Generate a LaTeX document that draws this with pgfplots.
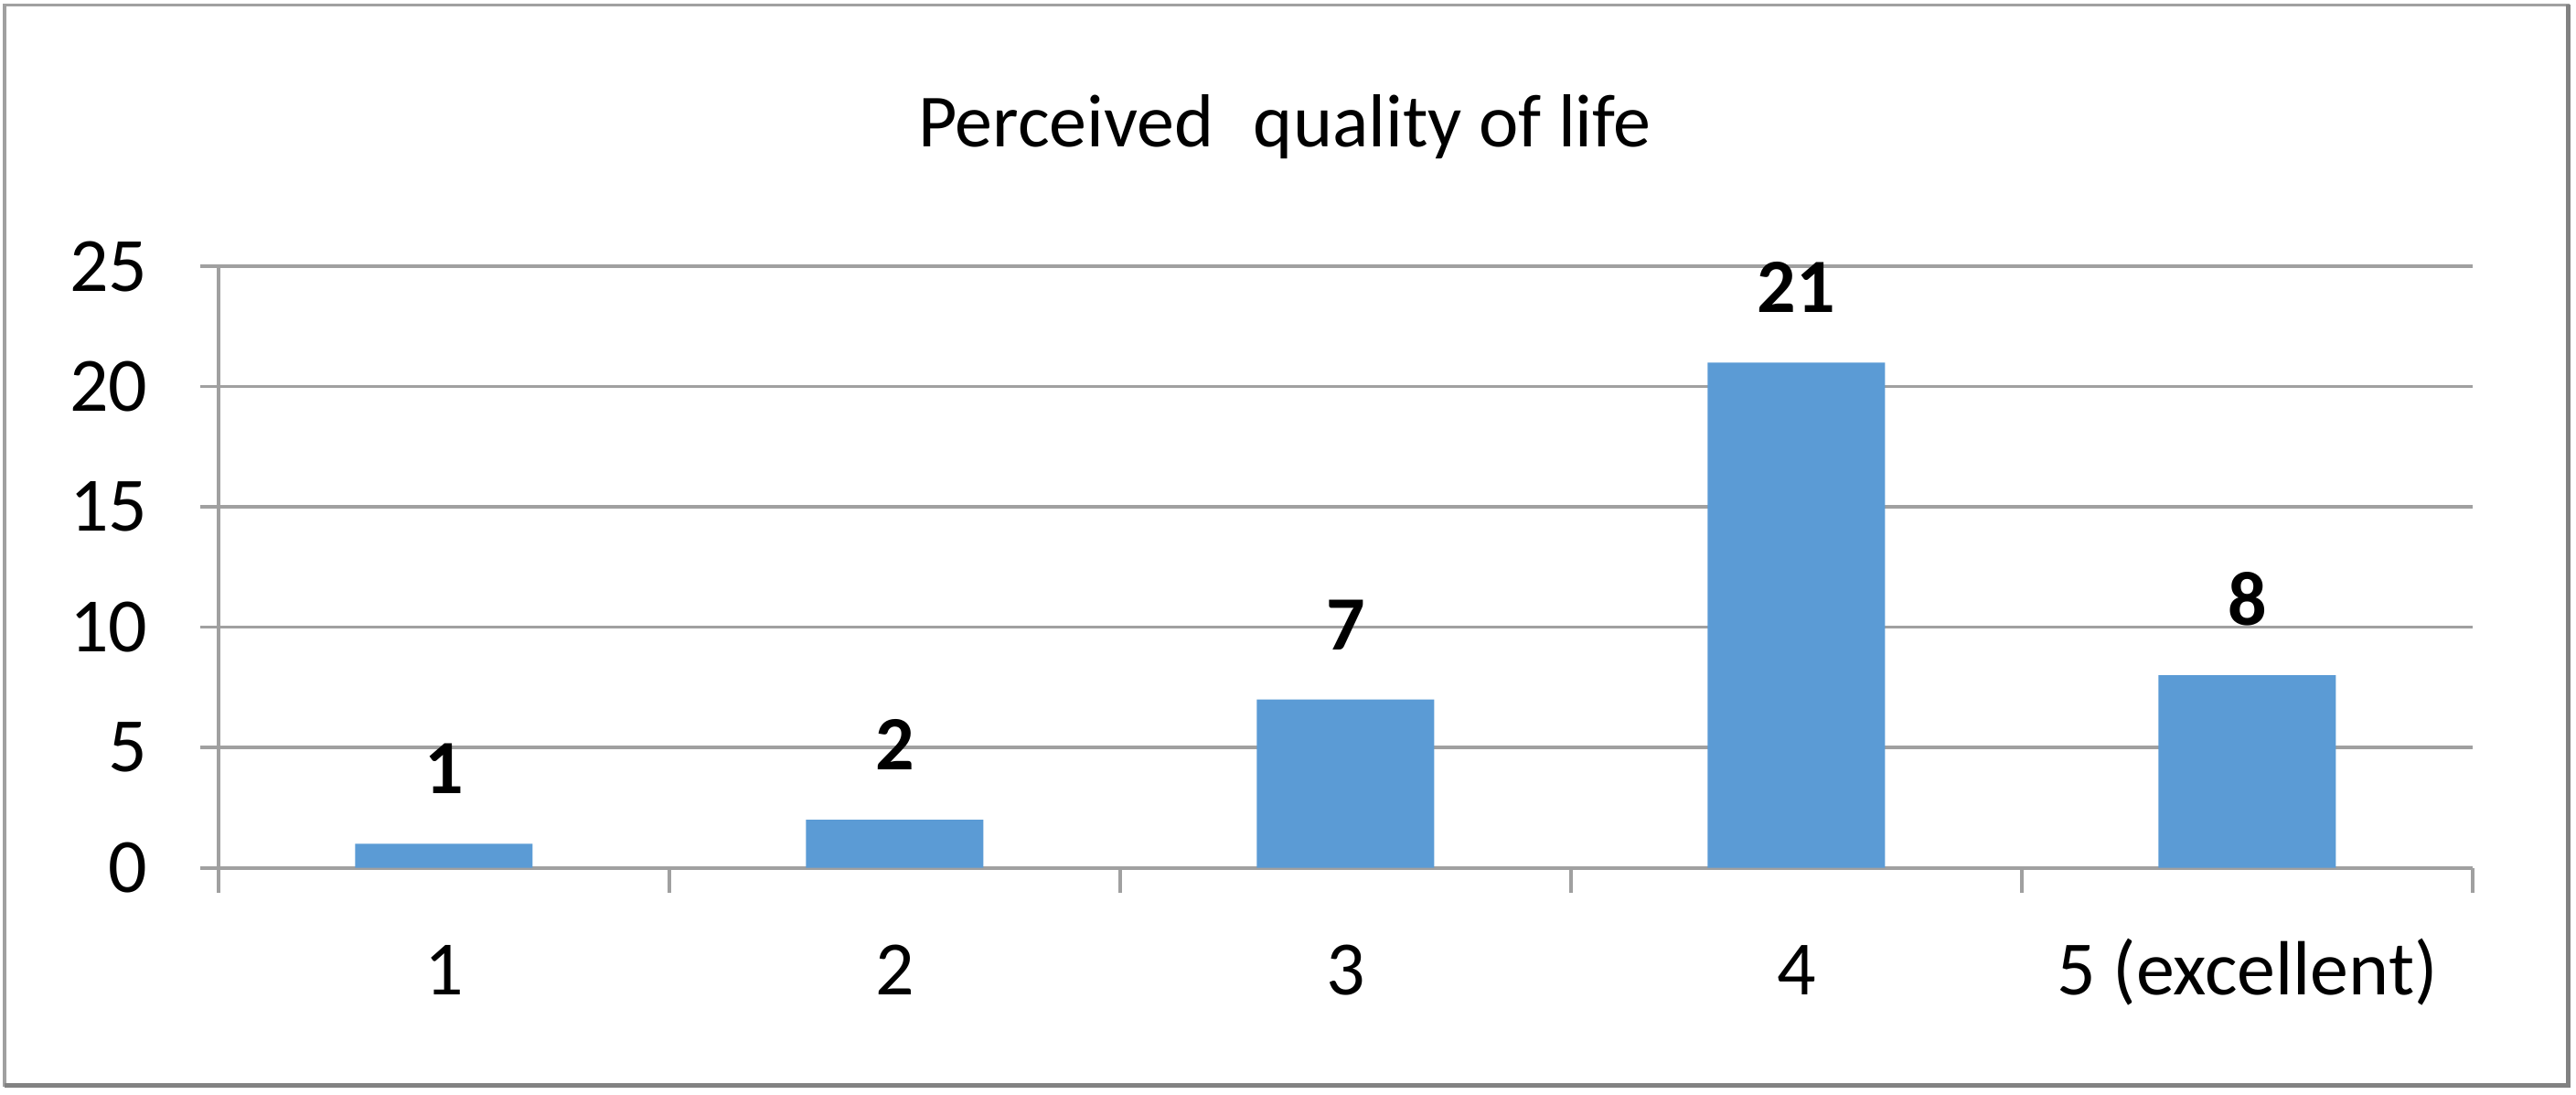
\documentclass[border=0pt]{standalone}
\usepackage{fontspec}
\setmainfont{Carlito}
\usepackage{pgfplots}
\pgfplotsset{compat=1.18}
\definecolor{barblue}{RGB}{91,155,213}
\definecolor{gridgray}{RGB}{160,160,160}
\definecolor{shadowgray}{RGB}{130,130,130}
\begin{document}
\fontsize{13.3pt}{16pt}\selectfont
\begin{tikzpicture}[x=1mm,y=1mm]
\path[use as bounding box] (-13.3,-13.8) rectangle (143.5,52.8);
\draw[gridgray, line width=0.6pt] (-13.0,-13.2) rectangle (143.0,52.5);
\draw[shadowgray, line width=0.8pt] (-13.0,-13.25) -- (143.05,-13.25) -- (143.05,52.5);
\node[font=\fontsize{13pt}{15pt}\selectfont] at (64.9,45.1) {Perceived\hspace{0.3em} quality of life};
\begin{axis}[
  at={(0,0)}, anchor=south west,
  scale only axis, width=137.2mm, height=36.6mm,
  xmin=0.5, xmax=5.5, ymin=0, ymax=25,
  ytick={0,5,...,25},
  xtick={1,2,3,4,5}, xticklabels={1,2,3,4,5 (excellent)},
  minor xtick={0.5,1.5,...,5.5},
  axis lines*=left,
  axis line style={gridgray, line width=0.6pt},
  ymajorgrids, major grid style={gridgray, line width=0.6pt},
  tick align=outside,
  major tick length=1.1mm, minor tick length=1.5mm,
  tick style={gridgray, line width=0.6pt},
  major x tick style={draw=none},
  ybar, bar width=10.8mm,
  nodes near coords,
  nodes near coords style={font=\bfseries, yshift=1.4mm},
  yticklabel style={xshift=-1.6mm},
  xticklabel style={text height=1.8ex, text depth=0.5ex, yshift=-1.0mm},
  /pgf/number format/assume math mode=true,
  clip=false,
]
\addplot[fill=barblue, draw=none] coordinates {(1,1) (2,2) (3,7) (4,21) (5,8)};
\end{axis}
\end{tikzpicture}
\end{document}
